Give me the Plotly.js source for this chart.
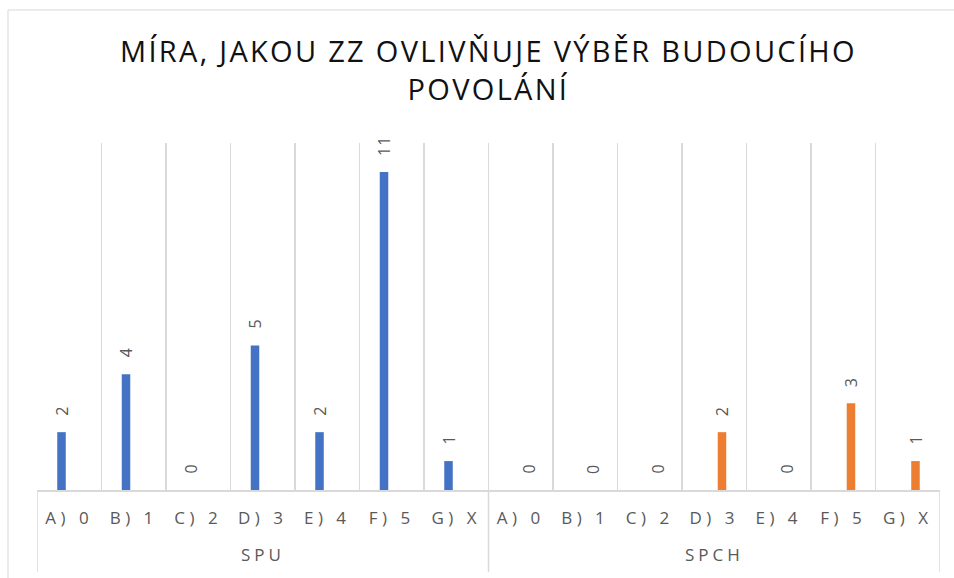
<!DOCTYPE html>
<html>
<head>
<meta charset="utf-8">
<script src="https://cdn.plot.ly/plotly-3.0.1.min.js"></script>
<style>
html,body{margin:0;padding:0;background:#fff;}
#chart{width:954px;height:578px;}
#chart .gtitle{letter-spacing:2.3px;}
#chart .xtick text{letter-spacing:4.5px;}
#chart .annotation-text{letter-spacing:1px;}
#chart .annotation.grp .annotation-text{letter-spacing:4px;}
</style>
</head>
<body>
<div id="chart"></div>
<script>
const groups = ["SPU", "SPCH"];
const answers = ["A) 0", "B) 1", "C) 2", "D) 3", "E) 4", "F) 5", "G) X"];
const spuValues = [2, 4, 0, 5, 2, 11, 1];
const spchValues = [0, 0, 0, 2, 0, 3, 1];
const titleText = "MÍRA, JAKOU ZZ OVLIVŇUJE VÝBĚR BUDOUCÍHO<br>POVOLÁNÍ";

const n = answers.length;
const idx = [];
const tickText = [];
groups.forEach((g, gi) => answers.forEach((a, ai) => { idx.push(gi * n + ai); tickText.push(a); }));
const nulls = answers.map(() => null);
const spuY = spuValues.concat(nulls);
const spchY = nulls.concat(spchValues);
const boundaries = [];
for (let i = 0; i <= idx.length; i++) boundaries.push(i - 0.5);

const grey = "#595959";
const lineGrey = "#d9d9d9";
const labelFont = {family: "Open Sans, sans-serif", size: 16, color: grey};

const traces = [
  {type: "bar", name: "SPU", x: idx, y: spuY, marker: {color: "#4472C4"}, hoverinfo: "skip"},
  {type: "bar", name: "SPCH", x: idx, y: spchY, marker: {color: "#ED7D31"}, hoverinfo: "skip"}
];

// data labels, built from the series arrays
const annotations = [];
function addLabels(vals, shift) {
  vals.forEach((v, i) => {
    if (v === null) return;
    annotations.push({
      x: idx[i] + shift, y: v, xref: "x", yref: "y",
      text: String(v), showarrow: false, textangle: -90,
      xanchor: "center", yanchor: "bottom", yshift: 15,
      font: labelFont
    });
  });
}
addLabels(spuY, -0.12);
addLabels(spchY, 0.12);

// group labels (second level of the category axis)
const shapes = [];
groups.forEach((g, gi) => {
  annotations.push({
    x: gi * n + (n - 1) / 2, xref: "x", y: -0.187, yref: "paper",
    text: g, showarrow: false, xanchor: "center", yanchor: "middle",
    font: {family: "Open Sans, sans-serif", size: 17, color: grey}
  });
});
// group dividers
for (let gi = 0; gi <= groups.length; gi++) {
  shapes.push({
    type: "line", xref: "x", yref: "paper",
    x0: gi * n - 0.5, x1: gi * n - 0.5, y0: -0.236, y1: 0,
    line: {color: lineGrey, width: 1.5}
  });
}
// outer chart frame
shapes.push({
  type: "rect", xref: "paper", yref: "paper",
  x0: -0.0321, x1: 1.05, y0: -0.3, y1: 1.3833,
  line: {color: lineGrey, width: 1}, fillcolor: "rgba(0,0,0,0)",
  layer: "below"
});

const layout = {
  width: 954, height: 578,
  margin: {l: 37, r: 14, t: 143, b: 88},
  paper_bgcolor: "#ffffff", plot_bgcolor: "#ffffff",
  showlegend: false,
  barmode: "group", bargap: 0.52, bargroupgap: 0.45,
  title: {
    text: titleText,
    font: {family: "Open Sans, sans-serif", size: 29, color: "#111111"},
    x: 0.512, xanchor: "center",
    y: 0.893, yanchor: "middle", yref: "container"
  },
  xaxis: {
    type: "linear", range: [-0.5, idx.length - 0.5],
    tickmode: "array", tickvals: idx, ticktext: tickText,
    showgrid: false, zeroline: false,
    minor: {tickmode: "array", tickvals: boundaries, showgrid: true, gridcolor: lineGrey, gridwidth: 1.5, ticks: ""},
    ticks: "", showline: true, linecolor: lineGrey, linewidth: 1.5,
    ticklabelstandoff: 12,
    tickfont: {family: "Open Sans, sans-serif", size: 17, color: grey}
  },
  yaxis: {
    range: [0, 12], showgrid: false, zeroline: false,
    showticklabels: false, ticks: "", showline: false
  },
  annotations: annotations,
  shapes: shapes
};

Plotly.newPlot("chart", traces, layout, {displayModeBar: false, staticPlot: true}).then(() => {
  document.querySelectorAll("#chart .annotation").forEach(a => {
    const t = a.querySelector(".annotation-text");
    if (t && groups.includes(t.textContent)) a.classList.add("grp");
  });
});
</script>
</body>
</html>
